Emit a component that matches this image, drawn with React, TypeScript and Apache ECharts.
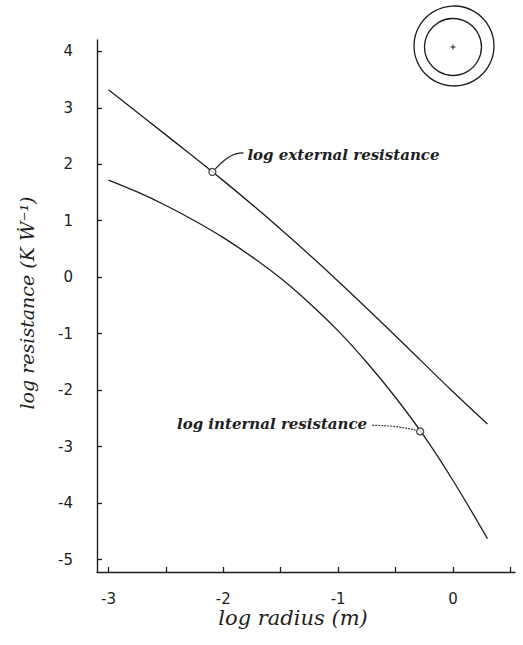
import React, { useEffect, useRef } from "react";
import * as echarts from "echarts";

// Axis ticks and labels
const radiusTicks = [-3, -2.5, -2, -1.5, -1, -0.5, 0, 0.5];
const radiusLabels = [-3, -2, -1, 0];
const resistanceTicks = [-5, -4, -3, -2, -1, 0, 1, 2, 3, 4];

// log external resistance vs log radius
const externalRadius = [-3, -2.5, -2, -1.5, -1, -0.5, 0, 0.3];
const externalResistance = [3.32, 2.52, 1.71, 0.85, -0.07, -1.04, -2.03, -2.6];

// log internal resistance vs log radius
const internalRadius = [-3, -2.75, -2.5, -2.25, -2, -1.75, -1.5, -1.25, -1, -0.75, -0.5, -0.25, 0, 0.3];
const internalResistance = [1.72, 1.51, 1.27, 1.0, 0.7, 0.36, -0.02, -0.46, -0.95, -1.51, -2.13, -2.82, -3.6, -4.63];

// Annotated points on each curve
const externalMark = [-2.095, 1.864];
const internalMark = [-0.286, -2.73];

const INK = "#1e1e1e";
const HAND = "'DejaVu Serif', serif";
const NUM = "'DejaVu Sans', sans-serif";

export default function App() {
  const ref = useRef<HTMLDivElement>(null);

  useEffect(() => {
    document.body.style.margin = "0";
    const el = ref.current;
    if (!el) return;
    const chart = echarts.init(el, null, { renderer: "svg" });

    const externalData = externalRadius.map((x, i) => [x, externalResistance[i]]);
    const internalData = internalRadius.map((x, i) => [x, internalResistance[i]]);

    chart.setOption({
      animation: false,
      backgroundColor: "#ffffff",
      grid: { left: 97, right: 8, top: 40, bottom: 73, containLabel: false, outerBoundsMode: "none" },
      xAxis: {
        type: "value",
        min: -3.1,
        max: 0.54,
        axisLine: { show: true, onZero: false, lineStyle: { color: INK, width: 1.4 } },
        axisTick: { show: true, inside: true, length: 5, customValues: radiusTicks, lineStyle: { color: INK, width: 1.3 } },
        axisLabel: {
          customValues: radiusLabels,
          margin: 19,
          color: INK,
          fontFamily: NUM,
          fontSize: 15,
        },
        splitLine: { show: false },
      },
      yAxis: {
        type: "value",
        min: -5.22,
        max: 4.2,
        axisLine: { show: true, onZero: false, lineStyle: { color: INK, width: 1.4 } },
        axisTick: { show: true, inside: true, length: 5, customValues: resistanceTicks, lineStyle: { color: INK, width: 1.3 } },
        axisLabel: {
          customValues: resistanceTicks,
          margin: 24,
          color: INK,
          fontFamily: NUM,
          fontSize: 15,
        },
        splitLine: { show: false },
      },
      series: [
        {
          name: "log external resistance",
          type: "line",
          data: externalData,
          smooth: 0.4,
          showSymbol: false,
          lineStyle: { color: INK, width: 1.3 },
        },
        {
          name: "log internal resistance",
          type: "line",
          data: internalData,
          smooth: 0.4,
          showSymbol: false,
          lineStyle: { color: INK, width: 1.3 },
        },
        {
          name: "marks",
          type: "scatter",
          data: [externalMark, internalMark],
          symbol: "circle",
          symbolSize: 7,
          z: 5,
          itemStyle: { color: "#ffffff", borderColor: INK, borderWidth: 1.3 },
        },
      ],
    });

    const [ex, ey] = chart.convertToPixel({ gridIndex: 0 }, externalMark) as number[];
    const [ix, iy] = chart.convertToPixel({ gridIndex: 0 }, internalMark) as number[];

    chart.setOption({
      graphic: [
        // leader from the external-resistance mark up to its label
        {
          type: "bezierCurve",
          shape: { x1: ex + 3, y1: ey - 3, cpx1: ex + 12, cpy1: ey - 13, cpx2: ex + 20, cpy2: ey - 19, x2: ex + 31, y2: ey - 19 },
          style: { stroke: INK, fill: "none", lineWidth: 1.2 },
        },
        {
          type: "text",
          x: ex + 35,
          y: ey - 17,
          style: {
            text: "log external resistance",
            fontFamily: HAND,
            fontStyle: "italic",
            fontWeight: "bold",
            fontSize: 15,
            fill: INK,
            align: "left",
            verticalAlign: "middle",
          },
        },
        // leader from the internal-resistance label to its mark
        {
          type: "bezierCurve",
          shape: { x1: ix - 48, y1: iy - 6, cpx1: ix - 30, cpy1: iy - 6, cpx2: ix - 15, cpy2: iy - 4, x2: ix - 4, y2: iy - 1 },
          style: { stroke: "#444", fill: "none", lineWidth: 1.2, lineDash: [2, 1] },
        },
        {
          type: "text",
          x: ix - 53,
          y: iy - 7,
          style: {
            text: "log internal resistance",
            fontFamily: HAND,
            fontStyle: "italic",
            fontWeight: "bold",
            fontSize: 15,
            fill: INK,
            align: "right",
            verticalAlign: "middle",
          },
        },
        // axis titles
        {
          type: "text",
          x: 293,
          y: 618,
          style: {
            text: "log radius (m)",
            fontFamily: HAND,
            fontStyle: "italic",
            fontSize: 21,
            fill: INK,
            align: "center",
            verticalAlign: "middle",
          },
        },
        {
          type: "text",
          x: 27,
          y: 303,
          rotation: Math.PI / 2,
          style: {
            text: "log resistance (K Ẇ⁻¹)",
            fontFamily: HAND,
            fontStyle: "italic",
            fontSize: 19,
            fill: INK,
            align: "center",
            verticalAlign: "middle",
          },
        },
        // cross-section sketch: two concentric circles with centre mark
        {
          type: "circle",
          shape: { cx: 454, cy: 46, r: 40 },
          style: { stroke: INK, fill: "none", lineWidth: 1.3 },
        },
        {
          type: "circle",
          shape: { cx: 453, cy: 47, r: 28.5 },
          style: { stroke: INK, fill: "none", lineWidth: 1.3 },
        },
        {
          type: "line",
          shape: { x1: 450.5, y1: 47, x2: 455.5, y2: 47 },
          style: { stroke: INK, lineWidth: 1 },
        },
        {
          type: "line",
          shape: { x1: 453, y1: 44.5, x2: 453, y2: 49.5 },
          style: { stroke: INK, lineWidth: 1 },
        },
      ],
    });

    return () => chart.dispose();
  }, []);

  return <div ref={ref} style={{ width: 523, height: 645 }} />;
}
